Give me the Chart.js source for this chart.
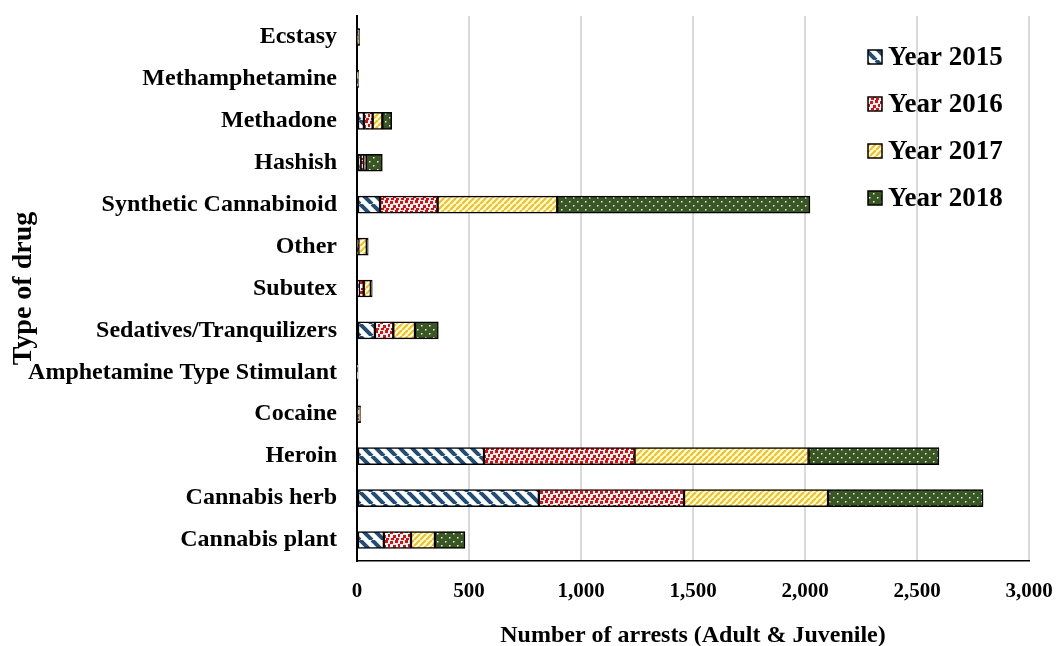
<!DOCTYPE html>
<html>
<head>
<meta charset="utf-8">
<script src="https://cdn.jsdelivr.net/npm/chart.js"></script>
<style>
  body { margin: 0; background: #fff; }
  canvas { display: block; }
</style>
</head>
<body>
<canvas id="chart" width="1057" height="646"></canvas>
<script>
const drugs = [
    'Ecstasy',
    'Methamphetamine',
    'Methadone',
    'Hashish',
    'Synthetic Cannabinoid',
    'Other',
    'Subutex',
    'Sedatives/Tranquilizers',
    'Amphetamine Type Stimulant',
    'Cocaine',
    'Heroin',
    'Cannabis herb',
    'Cannabis plant'
];
const years = ['Year 2015', 'Year 2016', 'Year 2017', 'Year 2018'];
const y2015 = [3, 2, 31, 16, 103, 3, 8, 80, 1, 4, 567, 812, 120];
const y2016 = [3, 2, 39, 15, 257, 3, 22, 82, 1, 4, 672, 648, 121];
const y2017 = [3, 2, 43, 9, 534, 38, 32, 97, 1, 4, 777, 643, 107];
const y2018 = [3, 1, 42, 73, 1128, 6, 6, 104, 1, 4, 582, 692, 134];
const xTicks = [0, 500, 1000, 1500, 2000, 2500, 3000];

const FONT = '"Liberation Serif", "Times New Roman", serif';

// pattern tiles
function tile(w, h, draw) {
    const c = document.createElement('canvas');
    c.width = w; c.height = h;
    const g = c.getContext('2d');
    draw(g, w, h);
    return c.getContext('2d').createPattern(c, 'repeat');
}

const pat2015 = tile(12, 12, (g, w, h) => {
    g.fillStyle = '#fff';
    g.fillRect(0, 0, w, h);
    g.strokeStyle = '#1f4e79';
    g.lineWidth = 4;
    [-w, 0, w].forEach(o => {
        g.beginPath();
        g.moveTo(o, 0);
        g.lineTo(o + w, h);
        g.stroke();
    });
});

const pat2016 = tile(10, 10, (g, w, h) => {
    g.fillStyle = '#fff';
    g.fillRect(0, 0, w, h);
    g.fillStyle = '#ff0000';
    [[0, 1], [5, 0], [3, 5], [8, 4], [6, 8], [1, 8]].forEach(p => g.fillRect(p[0], p[1], 3, 3));
});

const pat2017 = tile(6, 6, (g, w, h) => {
    g.fillStyle = '#fff';
    g.fillRect(0, 0, w, h);
    g.strokeStyle = '#ffc000';
    g.lineWidth = 2.2;
    [-w, 0, w].forEach(o => {
        g.beginPath();
        g.moveTo(o, h);
        g.lineTo(o + w, 0);
        g.stroke();
    });
});

const pat2018 = tile(8, 8, (g, w, h) => {
    g.fillStyle = '#385723';
    g.fillRect(0, 0, w, h);
    g.fillStyle = '#e8eee0';
    g.fillRect(1, 1, 1.5, 1.5);
    g.fillRect(5, 5, 1.5, 1.5);
});

const fills = [pat2015, pat2016, pat2017, pat2018];
const series = [y2015, y2016, y2017, y2018];

const legendInside = {
    id: 'legendInside',
    afterDraw(chart) {
        const ctx = chart.ctx;
        const area = chart.chartArea;
        const x = area.right - 161;
        let y = area.top + 41;
        ctx.save();
        chart.data.datasets.forEach(ds => {
            ctx.fillStyle = ds.backgroundColor;
            ctx.fillRect(x, y - 7, 14, 14);
            ctx.strokeStyle = '#000';
            ctx.lineWidth = 1.5;
            ctx.strokeRect(x, y - 7, 14, 14);
            ctx.fillStyle = '#000';
            ctx.font = 'bold 27px ' + FONT;
            ctx.textBaseline = 'middle';
            ctx.fillText(ds.label, x + 20, y + 1);
            y += 47;
        });
        ctx.restore();
    }
};

const config = {
    type: 'bar',
    data: {
        labels: drugs,
        datasets: years.map((name, i) => ({
            label: name,
            data: series[i],
            backgroundColor: fills[i],
            borderColor: '#000',
            borderWidth: 1.5,
            borderSkipped: false,
            barThickness: 17
        }))
    },
    options: {
        indexAxis: 'y',
        responsive: false,
        animation: false,
        devicePixelRatio: 1,
        layout: { padding: { top: 16, right: 28, bottom: 0, left: 0 } },
        plugins: {
            legend: { display: false },
            tooltip: { enabled: false }
        },
        scales: {
            x: {
                stacked: true,
                min: 0,
                max: 3000,
                afterBuildTicks: axis => { axis.ticks = xTicks.map(v => ({ value: v })); },
                ticks: {
                    color: '#000',
                    font: { family: FONT, size: 21, weight: 'bold' },
                    padding: 18,
                    callback: v => v.toLocaleString('en-US')
                },
                grid: { color: '#d9d9d9', lineWidth: 2, drawTicks: false },
                border: { color: '#000', width: 1.5 },
                title: {
                    display: true,
                    text: 'Number of arrests (Adult & Juvenile)',
                    color: '#000',
                    font: { family: FONT, size: 24, weight: 'bold' },
                    padding: { top: 14, bottom: -4 }
                },
                afterFit: axis => {
                    axis.height = 85;
                    axis.paddingLeft = 0;
                    axis.paddingRight = 0;
                }
            },
            y: {
                stacked: true,
                ticks: {
                    color: '#000',
                    font: { family: FONT, size: 24, weight: 'bold' },
                    padding: 20
                },
                grid: { display: false, drawTicks: false },
                border: { color: '#000', width: 2 },
                title: {
                    display: true,
                    text: 'Type of drug',
                    color: '#000',
                    font: { family: FONT, size: 28, weight: 'bold' },
                    padding: { top: 7, bottom: 0 }
                },
                afterFit: axis => {
                    axis.width = 357;
                    axis.paddingTop = 0;
                    axis.paddingBottom = 0;
                }
            }
        }
    },
    plugins: [legendInside]
};

const chart = new Chart(document.getElementById('chart'), config);
</script>
</body>
</html>
